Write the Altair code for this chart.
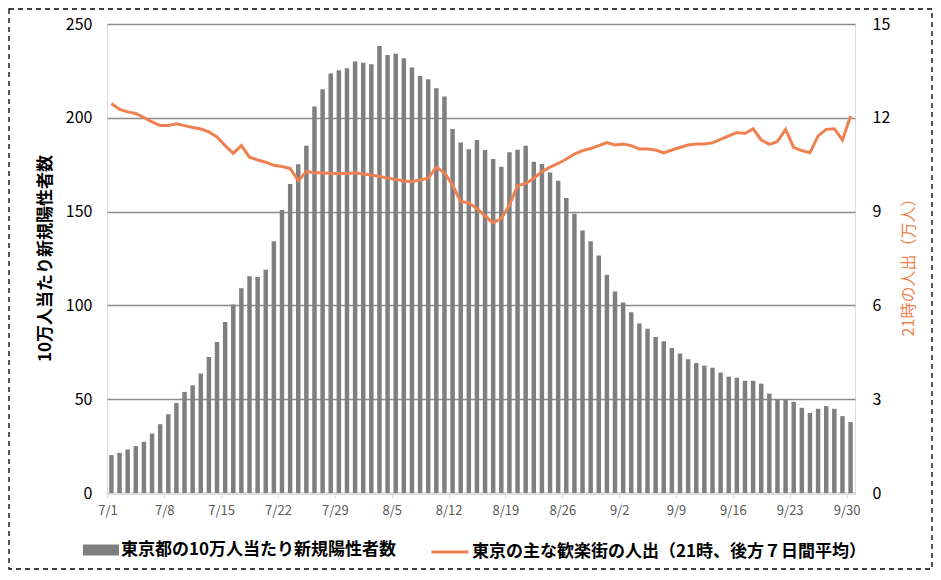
import altair as alt
import pandas as pd

# categories: every day 7/1 .. 9/30
dates = []
for m, n in [(7, 31), (8, 31), (9, 30)]:
    for d in range(1, n + 1):
        dates.append(f"{m}/{d}")

tick_labels = ["7/1", "7/8", "7/15", "7/22", "7/29", "8/5", "8/12", "8/19",
               "8/26", "9/2", "9/9", "9/16", "9/23", "9/30"]

# new positive cases per 100k (left axis)
cases = [20.2, 21.4, 23.2, 25.0, 27.3, 31.7, 36.7, 42.0, 48.0, 53.9,
         57.4, 63.7, 72.5, 80.5, 91.1, 100.5, 109.2, 115.6, 115.2, 119.0,
         134.2, 150.9, 164.7, 175.2, 185.1, 206.0, 215.2, 223.6, 225.4, 226.4,
         230.0, 229.4, 228.5, 238.3, 233.5, 234.2, 231.7, 226.8, 222.3, 220.6,
         215.8, 211.3, 194.0, 186.9, 183.3, 188.1, 182.8, 178.0, 173.9, 181.6,
         183.0, 185.1, 176.6, 175.4, 170.9, 166.5, 157.3, 148.8, 139.9, 134.2,
         126.6, 116.3, 107.4, 101.6, 96.4, 90.3, 87.6, 83.2, 80.9, 77.3,
         74.3, 71.3, 69.3, 67.9, 66.8, 64.2, 62.0, 61.5, 59.8, 59.8,
         58.3, 53.0, 49.8, 49.8, 48.6, 45.4, 42.7, 44.9, 46.3, 44.9, 41.0, 37.8]

# people out at 21:00 (10k persons, right axis)
people = [12.46, 12.27, 12.19, 12.14, 12.01, 11.87, 11.75, 11.75, 11.81, 11.75,
          11.69, 11.64, 11.55, 11.39, 11.11, 10.86, 11.11, 10.74, 10.65, 10.58,
          10.48, 10.44, 10.38, 9.99, 10.28, 10.24, 10.24, 10.22, 10.22, 10.22,
          10.24, 10.20, 10.17, 10.12, 10.07, 10.03, 9.98, 9.96, 10.01, 10.07,
          10.42, 10.24, 9.85, 9.32, 9.28, 9.10, 8.86, 8.64, 8.78, 9.21,
          9.83, 9.90, 10.06, 10.28, 10.42, 10.54, 10.68, 10.84, 10.95, 11.02,
          11.11, 11.21, 11.13, 11.16, 11.11, 11.00, 11.00, 10.97, 10.88, 10.97,
          11.05, 11.13, 11.16, 11.16, 11.20, 11.31, 11.42, 11.53, 11.50, 11.65,
          11.29, 11.15, 11.24, 11.63, 11.05, 10.95, 10.88, 11.42, 11.63, 11.65,
          11.29, 12.06]

left_ticks = [0, 50, 100, 150, 200, 250]
right_ticks = [0, 3, 6, 9, 12, 15]

bar_name = "東京都の10万人当たり新規陽性者数"
line_name = "東京の主な歓楽街の人出（21時、後方７日間平均）"
left_title = "10万人当たり新規陽性者数"
right_title = "21時の人出（万人）"

FONT = "Noto Sans CJK JP"
GRAY = "#7f7f7f"
ORANGE = "#EF8150"

df = pd.DataFrame({"date": dates, "cases": cases, "people": people,
                   "s1": bar_name, "s2": line_name})

x_enc = alt.X(
    "date:O", sort=dates,
    scale=alt.Scale(paddingInner=0.45, paddingOuter=0.27),
    axis=alt.Axis(values=tick_labels, labelAngle=0, title=None,
                  domainColor="#d9d9d9", domainWidth=1.2,
                  tickColor="#d9d9d9", tickSize=5, tickOffset=-4,
                  labelColor="#595959", labelFontSize=13, labelPadding=6,
                  grid=False),
)

base = alt.Chart(df)

bars = base.mark_bar().encode(
    x=x_enc,
    y=alt.Y("cases:Q",
            scale=alt.Scale(domain=[0, 250], nice=False),
            axis=alt.Axis(values=left_ticks, grid=True, gridColor="#8c8c8c",
                          gridWidth=1.5, domain=False, ticks=False,
                          labelFontSize=16, labelColor="black", labelPadding=15,
                          title=left_title, titleFontSize=17,
                          titleFontWeight="bold", titleColor="black",
                          titleAngle=270, titleX=-62, titleY=234,
                          titleAlign="center", titleBaseline="middle")),
    color=alt.Color("s1:N",
                    scale=alt.Scale(domain=[bar_name], range=[GRAY]),
                    legend=alt.Legend(orient="none", legendX=-24, legendY=508,
                                      title=None, padding=0,
                                      symbolType="M-1,-0.3H1V0.3H-1Z",
                                      symbolSize=1296, symbolStrokeWidth=0,
                                      symbolOpacity=1,
                                      labelFontSize=17, labelFontWeight="bold",
                                      labelColor="black", labelOffset=2,
                                      labelLimit=0)),
)

line = base.mark_line(strokeWidth=3).encode(
    x=x_enc,
    y=alt.Y("people:Q",
            scale=alt.Scale(domain=[0, 15], nice=False),
            axis=alt.Axis(orient="right", values=right_ticks, grid=False,
                          domain=False, ticks=False,
                          labelFontSize=16, labelColor="black", labelPadding=17,
                          title=right_title, titleFontSize=16,
                          titleFontWeight="normal", titleColor=ORANGE,
                          titleAngle=270, titleX=53, titleY=239,
                          titleAlign="center", titleBaseline="middle")),
    stroke=alt.Stroke("s2:N",
                      scale=alt.Scale(domain=[line_name], range=[ORANGE]),
                      legend=alt.Legend(orient="none", legendX=323, legendY=508,
                                        title=None, padding=0,
                                        symbolType="stroke", symbolSize=1369,
                                        symbolStrokeWidth=3,
                                        labelFontSize=17, labelFontWeight="bold",
                                        labelColor="black", labelOffset=2,
                                        labelLimit=0)),
)

frame = alt.Chart(pd.DataFrame({"k": [0]})).mark_rect(
    fillOpacity=0, stroke="black", strokeWidth=1.3, strokeDash=[5, 4]
).encode(x=alt.value(-98), x2=alt.value(825),
         y=alt.value(-15), y2=alt.value(545))

chart = alt.layer(bars, line, frame).resolve_scale(
    y="independent", color="independent"
).properties(
    width=748, height=469,
    autosize=alt.AutoSizeParams(type="none"),
    padding={"left": 99, "top": 16, "right": 78, "bottom": 77},
).configure_view(strokeWidth=0).configure(
    font=FONT
).configure_axis(labelFont=FONT, titleFont=FONT).configure_legend(
    labelFont=FONT
)

chart.save("out.html", embed_options={"renderer": "svg", "actions": False})
